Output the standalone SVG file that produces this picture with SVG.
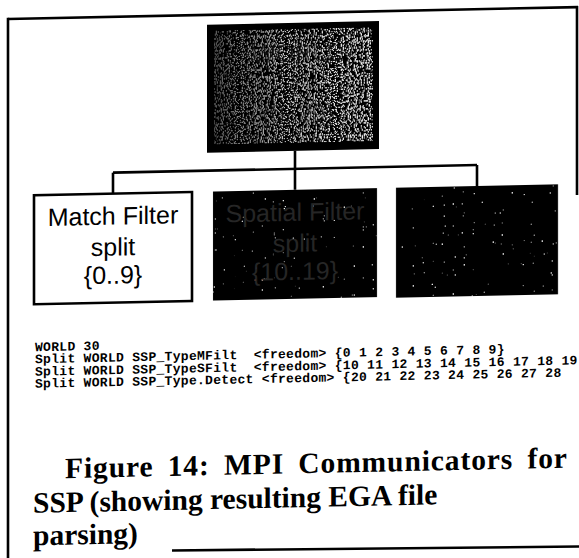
<svg xmlns="http://www.w3.org/2000/svg" width="579" height="558" viewBox="0 0 579 558">
<defs>
<style>
.frame{stroke:#000;stroke-width:2.6;fill:none}
.conn{stroke:#000;stroke-width:2.6;fill:none}
.box{fill:#fff;stroke:#000;stroke-width:2.6}
.lbl{font-family:"Liberation Sans",Arial,sans-serif;font-size:25px;text-anchor:middle}
.ghost{font-family:"Liberation Sans",Arial,sans-serif;font-size:25px;text-anchor:middle;fill:#262626}
.code{font-family:"Liberation Mono","DejaVu Sans Mono",monospace;font-weight:bold;font-size:13px;letter-spacing:0.3px;fill:#000}
.cap{font-family:"Liberation Serif","Times New Roman",serif;font-weight:bold;font-size:29.5px;fill:#000}
</style>
<linearGradient id="fade" x1="0" y1="0" x2="1" y2="0">
<stop offset="0" stop-color="#fff" stop-opacity="0.35"/>
<stop offset="0.45" stop-color="#fff" stop-opacity="0.8"/>
<stop offset="1" stop-color="#fff" stop-opacity="1"/>
</linearGradient>
<mask id="worldMask" maskContentUnits="objectBoundingBox">
<rect x="0" y="0" width="1" height="1" fill="url(#fade)"/>
</mask>
<filter id="speckDense" x="0" y="0" width="100%" height="100%">
<feTurbulence type="fractalNoise" baseFrequency="0.85" numOctaves="1" seed="4" result="n"/>
<feColorMatrix in="n" type="matrix" values="0 0 0 0 1 0 0 0 0 1 0 0 0 0 1 14 0 0 0 -7.9" result="w"/>
<feComposite in="w" in2="SourceGraphic" operator="in" result="wc"/>
<feMerge><feMergeNode in="SourceGraphic"/><feMergeNode in="wc"/></feMerge>
</filter>
<filter id="speckSparse" x="0" y="0" width="100%" height="100%">
<feTurbulence type="fractalNoise" baseFrequency="0.9" numOctaves="1" seed="9" result="n"/>
<feColorMatrix in="n" type="matrix" values="0 0 0 0 1 0 0 0 0 1 0 0 0 0 1 20 0 0 0 -14.8" result="w"/>
<feComposite in="w" in2="SourceGraphic" operator="in" result="wc"/>
<feMerge><feMergeNode in="SourceGraphic"/><feMergeNode in="wc"/></feMerge>
</filter>
</defs>
<rect x="0" y="0" width="579" height="558" fill="#fff"/>
<g transform="skewY(-1.2)">
<g id="frame">
<line class="frame" x1="8" y1="19.2" x2="578" y2="19.2"/>
<line class="frame" x1="8" y1="18" x2="8" y2="560"/>
<line class="frame" x1="577" y1="18" x2="577" y2="207"/>
</g>
<g id="connectors">
<line class="conn" x1="295" y1="157" x2="295" y2="175"/>
<line class="conn" x1="113" y1="175" x2="477" y2="175"/>
<line class="conn" x1="113" y1="175" x2="113" y2="196"/>
<line class="conn" x1="295" y1="175" x2="295" y2="196"/>
<line class="conn" x1="477" y1="175" x2="477" y2="196"/>
</g>
<g id="node-world">
<rect x="207" y="29" width="172" height="128" fill="#000"/>
<g mask="url(#worldMask)">
<rect x="214" y="35" width="159" height="114" fill="#000" filter="url(#speckDense)"/>
</g>
<text class="ghost" x="298" y="68" fill="#555" opacity="0.4">WORLD</text>
<text class="ghost" x="298" y="128" fill="#555" opacity="0.4">{0..29}</text>
</g>
<g id="node-match">
<rect class="box" x="34" y="196" width="158" height="109"/>
<text class="lbl" x="113" y="227">Match Filter</text>
<text class="lbl" x="113" y="258">split</text>
<text class="lbl" x="113" y="286">{0..9}</text>
</g>
<g id="node-spatial">
<rect x="213" y="196" width="164" height="109" fill="#000" filter="url(#speckSparse)"/>
<text class="ghost" x="295" y="227">Spatial Filter</text>
<text class="ghost" x="295" y="258">split</text>
<text class="ghost" x="295" y="286">{10..19}</text>
</g>
<g id="node-detect">
<rect x="396" y="196" width="162" height="110" fill="#000" filter="url(#speckSparse)"/>
</g>
<g id="code">
<text class="code" x="35" y="352" xml:space="preserve">WORLD 30</text>
<text class="code" x="35" y="364" xml:space="preserve">Split WORLD SSP_TypeMFilt  &lt;freedom&gt; {0 1 2 3 4 5 6 7 8 9}</text>
<text class="code" x="35" y="376.5" xml:space="preserve">Split WORLD SSP_TypeSFilt  &lt;freedom&gt; {10 11 12 13 14 15 16 17 18 19</text>
<text class="code" x="35" y="388.5" xml:space="preserve">Split WORLD SSP_Type.Detect &lt;freedom&gt; {20 21 22 23 24 25 26 27 28</text>
</g>
<g id="caption">
<text class="cap" x="65" y="479.5" word-spacing="6" letter-spacing="0.9">Figure 14: MPI Communicators for</text>
<text class="cap" x="33" y="513.5">SSP (showing resulting EGA file</text>
<text class="cap" x="33" y="546">parsing)</text>
</g>
</g>
<line class="frame" x1="172" y1="550.5" x2="579" y2="546.5"/>
</svg>
